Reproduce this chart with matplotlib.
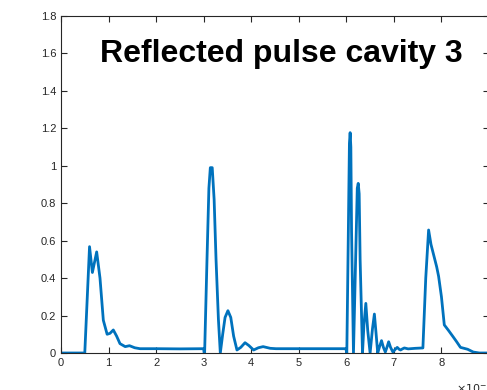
import matplotlib
matplotlib.use("Agg")
import matplotlib.pyplot as plt

plt.rcParams['font.family'] = ['Liberation Sans', 'DejaVu Sans']

# time (units of 1e-6 s) and reflected amplitude
t = [0.0, 0.50, 0.60, 0.66, 0.75, 0.82, 0.89, 0.97, 1.03, 1.10, 1.17, 1.24, 1.35, 1.44, 1.55, 1.66,
     2.0, 2.5, 3.0, 3.01, 3.02, 3.07, 3.11, 3.14, 3.18, 3.22, 3.26, 3.31, 3.35, 3.40, 3.45, 3.51,
     3.57, 3.63, 3.70, 3.78, 3.87, 3.95, 4.05, 4.15, 4.25, 4.40, 4.52, 5.0, 5.5, 5.99,
     6.01, 6.04, 6.065, 6.08, 6.095, 6.11, 6.15, 6.20, 6.23, 6.25, 6.27, 6.29, 6.34, 6.37, 6.41, 6.45,
     6.50, 6.55, 6.59, 6.62, 6.66, 6.70, 6.74, 6.78, 6.82, 6.86, 6.89, 6.93, 6.98, 7.03, 7.07, 7.11,
     7.14, 7.18, 7.22, 7.30, 7.45, 7.61, 7.67, 7.73, 7.78, 7.83, 7.90, 7.94, 8.00, 8.06, 8.15, 8.25,
     8.32, 8.40, 8.55, 8.67, 8.80, 9.0]
y = [0.0, 0.0, 0.568, 0.43, 0.54, 0.40, 0.175, 0.10, 0.105, 0.123, 0.09, 0.05, 0.034, 0.039, 0.028, 0.023,
     0.023, 0.022, 0.023, 0.0, 0.0, 0.50, 0.88, 0.99, 0.99, 0.82, 0.50, 0.18, 0.0, 0.10, 0.19, 0.226,
     0.19, 0.09, 0.016, 0.03, 0.055, 0.04, 0.016, 0.028, 0.034, 0.025, 0.023, 0.023, 0.023, 0.023,
     0.0, 0.60, 1.12, 1.177, 1.10, 0.65, 0.0, 0.55, 0.88, 0.906, 0.85, 0.50, 0.0, 0.15, 0.265, 0.12,
     0.0, 0.13, 0.208, 0.12, 0.0, 0.035, 0.066, 0.03, 0.005, 0.035, 0.06, 0.03, 0.005, 0.02, 0.03, 0.02,
     0.016, 0.022, 0.027, 0.022, 0.025, 0.027, 0.40, 0.657, 0.58, 0.53, 0.46, 0.41, 0.30, 0.15, 0.12, 0.085,
     0.06, 0.03, 0.02, 0.005, 0.0, 0.0]

xticks = [0, 1, 2, 3, 4, 5, 6, 7, 8]
yticks = [0, 0.2, 0.4, 0.6, 0.8, 1.0, 1.2, 1.4, 1.6, 1.8]
ytick_labels = ['0', '0.2', '0.4', '0.6', '0.8', '1', '1.2', '1.4', '1.6', '1.8']
title = 'Reflected pulse cavity 3'

fig = plt.figure(figsize=(4.87, 3.90), dpi=100)
ax = fig.add_axes([61/487, 1-353/390, 428/487, (353-16)/390])
ax.plot(t, y, color='#0072BD', lw=2.0)
ax.set_xlim(0, 9)
ax.set_ylim(0, 1.8)
ax.set_xticks(xticks)
ax.set_yticks(yticks)
ax.set_yticklabels(ytick_labels)
ax.tick_params(direction='in', top=True, right=True, labelsize=8, colors='#262626', length=4, width=0.8)
for s in ax.spines.values():
    s.set_color('#262626')
    s.set_linewidth(0.8)
ax.text(281/487, 1-54/390, title, transform=fig.transFigure, ha='center', va='center',
        fontsize=23, fontweight='bold', color='black')
fig.text(456/487, 1-379/390, r'$\times10^{-6}$', ha='left', va='top', fontsize=8, color='#262626')
fig.savefig('out.png', dpi=100)
